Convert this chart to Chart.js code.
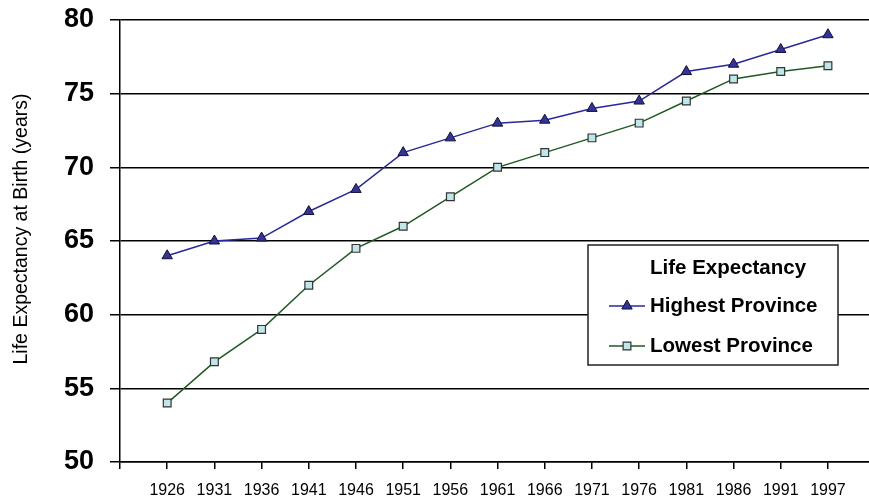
<!DOCTYPE html>
<html>
<head>
<meta charset="utf-8">
<script src="https://cdn.jsdelivr.net/npm/chart.js@4/dist/chart.umd.min.js"></script>
<style>
  html, body { margin: 0; padding: 0; background: #fff; overflow: hidden; }
  #wrap { width: 869px; height: 501px; overflow: hidden; }
  #c { display: block; }
</style>
</head>
<body>
<div id="wrap"><canvas id="c" width="876" height="501"></canvas></div>
<script>
// Census years along the horizontal axis
const years = ['1926','1931','1936','1941','1946','1951','1956','1961','1966','1971','1976','1981','1986','1991','1997'];
// Life expectancy at birth (years) for the best and worst provinces
const highestProvince = [64.0, 65.0, 65.2, 67.0, 68.5, 71.0, 72.0, 73.0, 73.2, 74.0, 74.5, 76.5, 77.0, 78.0, 79.0];
const lowestProvince  = [54.0, 56.8, 59.0, 62.0, 64.5, 66.0, 68.0, 70.0, 71.0, 72.0, 73.0, 74.5, 76.0, 76.5, 76.9];
const yTicks = [50, 55, 60, 65, 70, 75, 80];
const yTitle = 'Life Expectancy at Birth (years)';

const toPoints = arr => arr.map((v, i) => ({ x: i, y: v }));

// Vertical axis title, set a little above the middle of the plot
const axisTitle = {
  id: 'axisTitle',
  afterDraw(chart) {
    const ctx = chart.ctx;
    ctx.save();
    ctx.translate(22, 229);
    ctx.rotate(-Math.PI / 2);
    ctx.fillStyle = '#000';
    ctx.font = '19.5px "Liberation Sans", Arial, sans-serif';
    ctx.textAlign = 'center';
    ctx.textBaseline = 'middle';
    ctx.fillText(yTitle, 0, 0);
    ctx.restore();
  }
};

// Boxed legend drawn inside the plot area
const boxLegend = {
  id: 'boxLegend',
  afterDraw(chart) {
    const ctx = chart.ctx;
    const x0 = 588, y0 = 245, w = 250, h = 120;
    ctx.save();
    ctx.fillStyle = '#fff';
    ctx.fillRect(x0, y0, w, h);
    ctx.strokeStyle = '#222';
    ctx.lineWidth = 1.5;
    ctx.strokeRect(x0, y0, w, h);
    ctx.fillStyle = '#000';
    ctx.font = 'bold 20.5px "Liberation Sans", Arial, sans-serif';
    ctx.textBaseline = 'middle';
    ctx.textAlign = 'left';
    ctx.fillText('Life Expectancy', 650, 268);
    const rows = [306, 346];
    chart.data.datasets.forEach((ds, i) => {
      const y = rows[i];
      ctx.strokeStyle = ds.borderColor;
      ctx.lineWidth = 1.5;
      ctx.beginPath();
      ctx.moveTo(609, y);
      ctx.lineTo(645, y);
      ctx.stroke();
      ctx.fillStyle = ds.pointBackgroundColor;
      ctx.strokeStyle = ds.pointBorderColor;
      ctx.lineWidth = ds.pointBorderWidth;
      Chart.helpers.drawPoint(ctx, {
        pointStyle: ds.pointStyle,
        radius: ds.pointRadius,
        borderWidth: ds.pointBorderWidth,
        rotation: 0
      }, 627, y);
      ctx.fillStyle = '#000';
      ctx.fillText(ds.label, 650, y);
    });
    ctx.restore();
  }
};

new Chart(document.getElementById('c'), {
  type: 'line',
  data: {
    datasets: [
      {
        label: 'Highest Province',
        data: toPoints(highestProvince),
        borderColor: '#28289e',
        borderWidth: 1.5,
        pointStyle: 'triangle',
        pointRadius: 6,
        pointBackgroundColor: '#333399',
        pointBorderColor: '#111133',
        pointBorderWidth: 1,
        tension: 0
      },
      {
        label: 'Lowest Province',
        data: toPoints(lowestProvince),
        borderColor: '#1f5a22',
        borderWidth: 1.5,
        pointStyle: 'rect',
        pointRadius: 5.5,
        pointBackgroundColor: '#bfe6e8',
        pointBorderColor: '#333333',
        pointBorderWidth: 1.2,
        tension: 0
      }
    ]
  },
  options: {
    responsive: false,
    animation: false,
    devicePixelRatio: 1,
    layout: { padding: { top: 20, right: 0, left: 0, bottom: 0 } },
    plugins: {
      legend: { display: false },
      tooltip: { enabled: false }
    },
    scales: {
      x: {
        type: 'linear',
        min: -1,
        max: 14.87,
        afterBuildTicks(scale) {
          scale.ticks = [-1].concat(years.map((_, i) => i)).map(v => ({ value: v }));
        },
        afterFit(scale) {
          scale.height = 39;
          scale.paddingLeft = 0;
          scale.paddingRight = 0;
        },
        ticks: {
          autoSkip: false,
          maxRotation: 0,
          padding: 12,
          color: '#000',
          font: { family: '"Liberation Sans", Arial, sans-serif', size: 16 },
          callback: v => (v >= 0 && v < years.length && Number.isInteger(v)) ? years[v] : ''
        },
        grid: { drawOnChartArea: false, drawTicks: true, tickLength: 7, color: '#000', lineWidth: 1.5 },
        border: { color: '#000', width: 1.5 }
      },
      y: {
        min: 50,
        max: 80,
        afterBuildTicks(scale) {
          scale.ticks = yTicks.map(v => ({ value: v }));
        },
        afterFit(scale) {
          scale.width = 120;
          scale.paddingTop = 0;
          scale.paddingBottom = 0;
        },
        ticks: {
          padding: 16,
          color: '#000',
          font: { family: '"Liberation Sans", Arial, sans-serif', size: 27, weight: 'bold' }
        },
        grid: { drawOnChartArea: true, drawTicks: true, tickLength: 10, color: '#000', lineWidth: 1.5 },
        border: { color: '#000', width: 1.5 },
        title: { display: false }
      }
    }
  },
  plugins: [boxLegend, axisTitle]
});
</script>
</body>
</html>
